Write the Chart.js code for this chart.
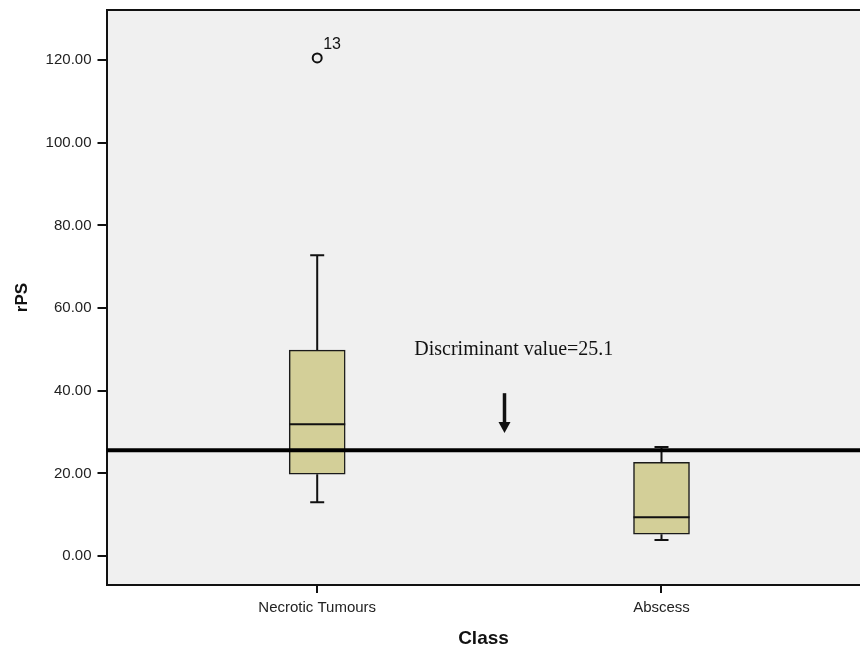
<!DOCTYPE html>
<html>
<head>
<meta charset="utf-8">
<script src="https://cdn.jsdelivr.net/npm/chart.js@4.4.1/dist/chart.umd.min.js"></script>
<style>
  html, body { margin: 0; padding: 0; background: #fff; overflow: hidden; }
  #wrap { width: 867px; height: 650px; }
</style>
</head>
<body>
<div id="wrap"><canvas id="box"></canvas></div>
<script>
const categories = ['Necrotic Tumours', 'Abscess'];
const catPos = [1, 2];
const whiskerLow = [13.0, 3.9];
const q1 = [19.8, 5.3];
const median = [31.9, 9.4];
const q3 = [49.8, 22.7];
const whiskerHigh = [72.8, 26.4];
const outlierCat = [1];
const outlierVal = [120.5];
const outlierId = ['13'];
const discriminant = 25.6;
const discriminantText = 'Discriminant value=25.1';
const yTicks = [0, 20, 40, 60, 80, 100, 120];

const X_MIN = 0.388, X_MAX = 2.578;
const sans = '"Liberation Sans", Arial, sans-serif';

const boxPlugin = {
  id: 'boxParts',
  beforeDraw(chart) {
    const { ctx, chartArea: a } = chart;
    ctx.save();
    ctx.fillStyle = '#f0f0f0';
    ctx.fillRect(a.left, a.top, a.right - a.left, a.bottom - a.top);
    ctx.restore();
  },
  beforeDatasetsDraw(chart) {
    const { ctx, scales: { x, y } } = chart;
    ctx.save();
    ctx.strokeStyle = '#111';
    ctx.lineWidth = 2;
    catPos.forEach((c, i) => {
      const px = x.getPixelForValue(c);
      ctx.beginPath();
      ctx.moveTo(px, y.getPixelForValue(whiskerLow[i]));
      ctx.lineTo(px, y.getPixelForValue(q1[i]));
      ctx.moveTo(px, y.getPixelForValue(q3[i]));
      ctx.lineTo(px, y.getPixelForValue(whiskerHigh[i]));
      [whiskerLow[i], whiskerHigh[i]].forEach((v) => {
        const py = y.getPixelForValue(v);
        ctx.moveTo(px - 7, py);
        ctx.lineTo(px + 7, py);
      });
      ctx.stroke();
    });
    ctx.restore();
  },
  afterDatasetsDraw(chart) {
    const { ctx, chartArea: a, scales: { x, y } } = chart;
    ctx.save();
    ctx.strokeStyle = '#111';
    ctx.lineWidth = 2;
    catPos.forEach((c, i) => {
      const px = x.getPixelForValue(c);
      const py = y.getPixelForValue(median[i]);
      ctx.beginPath();
      ctx.moveTo(px - 28, py);
      ctx.lineTo(px + 28, py);
      ctx.stroke();
    });
    // outlier case numbers
    ctx.fillStyle = '#111';
    ctx.font = '16px ' + sans;
    ctx.textBaseline = 'alphabetic';
    outlierCat.forEach((c, i) => {
      ctx.fillText(outlierId[i], x.getPixelForValue(c) + 6, y.getPixelForValue(outlierVal[i]) - 9);
    });
    // annotation
    ctx.font = '20px "Liberation Serif", "Times New Roman", serif';
    ctx.fillText(discriminantText, x.getPixelForValue(1.282), y.getPixelForValue(48.6));
    const ax = x.getPixelForValue(1.544);
    const top = y.getPixelForValue(39.4), tip = y.getPixelForValue(29.8);
    ctx.lineWidth = 3.5;
    ctx.beginPath();
    ctx.moveTo(ax, top);
    ctx.lineTo(ax, tip - 8);
    ctx.stroke();
    ctx.beginPath();
    ctx.moveTo(ax - 6, tip - 11);
    ctx.lineTo(ax + 6, tip - 11);
    ctx.lineTo(ax, tip);
    ctx.closePath();
    ctx.fill();
    // top frame
    ctx.lineWidth = 2;
    ctx.beginPath();
    ctx.moveTo(a.left, a.top);
    ctx.lineTo(a.right, a.top);
    ctx.stroke();
    ctx.restore();
  },
};

new Chart(document.getElementById('box'), {
  data: {
    datasets: [
      {
        type: 'line',
        order: 0,
        data: [{ x: X_MIN, y: discriminant }, { x: X_MAX, y: discriminant }],
        borderColor: '#000',
        borderWidth: 4,
        pointRadius: 0,
      },
      {
        type: 'scatter',
        order: 1,
        data: outlierCat.map((c, i) => ({ x: c, y: outlierVal[i] })),
        pointStyle: 'circle',
        pointRadius: 4.5,
        borderWidth: 2,
        borderColor: '#111',
        backgroundColor: 'rgba(0,0,0,0)',
      },
      {
        type: 'bar',
        order: 2,
        data: catPos.map((c, i) => ({ x: c, y: [q1[i], q3[i]] })),
        backgroundColor: '#d3cf98',
        borderColor: '#1a1a1a',
        borderWidth: 1.5,
        borderSkipped: false,
        barThickness: 56,
      },
    ],
  },
  options: {
    responsive: true,
    maintainAspectRatio: false,
    animation: false,
    devicePixelRatio: 1,
    layout: { padding: { top: 10, right: 0, bottom: 0, left: 0 } },
    plugins: { legend: { display: false }, tooltip: { enabled: false } },
    scales: {
      x: {
        type: 'linear',
        min: X_MIN,
        max: X_MAX,
        offset: false,
        afterBuildTicks: (s) => { s.ticks = catPos.map((v) => ({ value: v })); },
        afterFit: (s) => { s.height = 65; s.paddingLeft = 0; s.paddingRight = 0; },
        grid: { offset: false, drawOnChartArea: false, tickLength: 8, color: '#111', lineWidth: 2 },
        border: { color: '#111', width: 2 },
        ticks: {
          color: '#222',
          font: { family: sans, size: 15 },
          padding: 6,
          maxRotation: 0,
          callback: (v) => categories[catPos.indexOf(v)] || '',
        },
        title: {
          display: true,
          text: 'Class',
          color: '#111',
          font: { family: sans, size: 19, weight: 'bold' },
          padding: { top: 0, bottom: 0 },
        },
      },
      y: {
        min: -7,
        max: 132.1,
        afterBuildTicks: (s) => { s.ticks = yTicks.map((v) => ({ value: v })); },
        afterFit: (s) => { s.width = 106.5; s.paddingTop = 0; s.paddingBottom = 0; },
        grid: { drawOnChartArea: false, tickLength: 9, color: '#111', lineWidth: 2 },
        border: { color: '#111', width: 2 },
        ticks: {
          color: '#222',
          font: { family: sans, size: 15 },
          padding: 6,
          callback: (v) => v.toFixed(2),
        },
        title: {
          display: true,
          text: 'rPS',
          color: '#111',
          font: { family: sans, size: 17, weight: 'bold' },
          padding: { top: 12, bottom: 0 },
        },
      },
    },
  },
  plugins: [boxPlugin],
});
</script>
</body>
</html>
